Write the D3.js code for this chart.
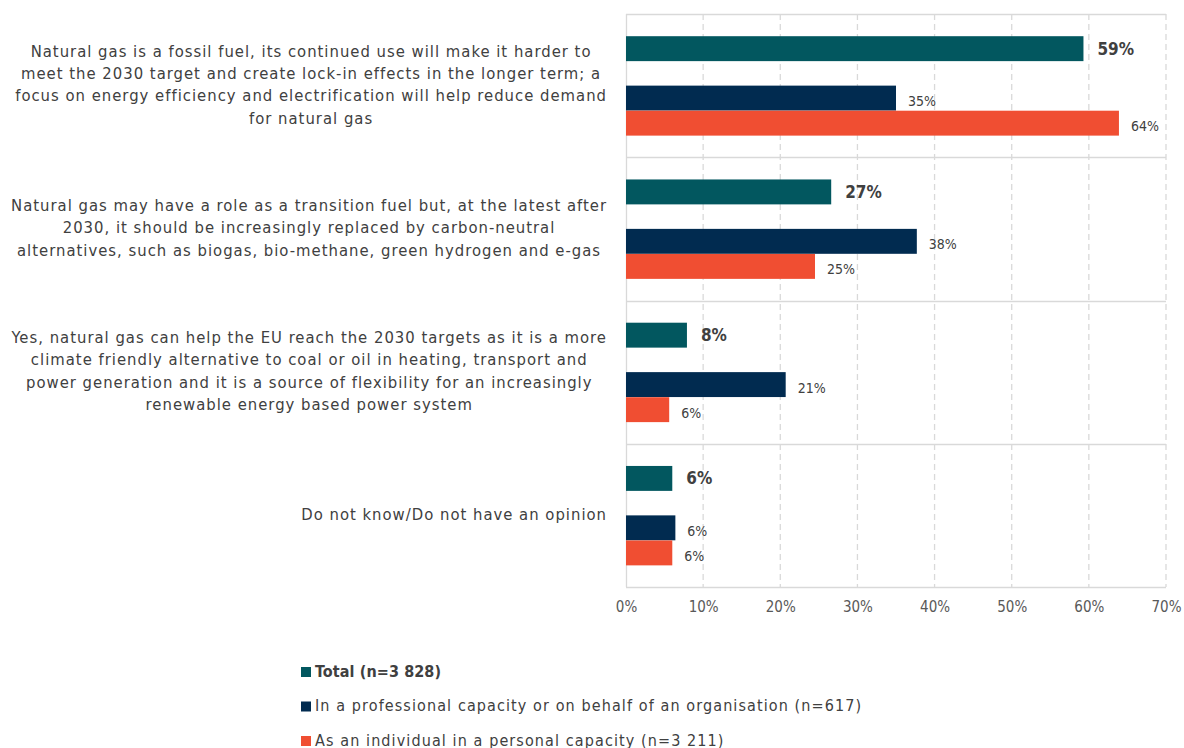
<!DOCTYPE html>
<html><head><meta charset="utf-8">
<script src="https://cdn.jsdelivr.net/npm/d3@7"></script>
<style>body{margin:0;background:#fff}svg{display:block}</style>
</head><body>
<script>
const categories = [
  ["Natural gas is a fossil fuel, its continued use will make it harder to","meet the 2030 target and create lock-in effects in the longer term; a","focus on energy efficiency and electrification will help reduce demand","for natural gas"],
  ["Natural gas may have a role as a transition fuel but, at the latest after","2030, it should be increasingly replaced by carbon-neutral","alternatives, such as biogas, bio-methane, green hydrogen and e-gas"],
  ["Yes, natural gas can help the EU reach the 2030 targets as it is a more","climate friendly alternative to coal or oil in heating, transport and","power generation and it is a source of flexibility for an increasingly","renewable energy based power system"],
  ["Do not know/Do not have an opinion"]
];
const seriesNames = ["Total (n=3 828)","In a professional capacity or on behalf of an organisation (n=617)","As an individual in a personal capacity (n=3 211)"];
const totalValues = [59.3, 26.6, 7.9, 6.0];
const professionalValues = [35.0, 37.7, 20.7, 6.4];
const individualValues = [63.9, 24.5, 5.6, 6.0];
const xTicks = [0,10,20,30,40,50,60,70];
const colors = ["#02575F","#012B50","#F04E32"];

(function(){
const W=1184,H=748;
const svg=d3.select("body").append("svg").attr("width",W).attr("height",H);
const FONT="'DejaVu Sans Condensed', 'DejaVu Sans', sans-serif";
const pL=626,pR=1166,pT=14,pB=587;
const x=d3.scaleLinear().domain([0,70]).range([pL,pR]);
const y=d3.scaleBand().domain(d3.range(categories.length)).range([pT,pB]);
const bw=y.bandwidth();

// gridlines
svg.append("g").selectAll("line").data(xTicks.slice(1)).join("line")
  .attr("x1",d=>x(d)).attr("x2",d=>x(d)).attr("y1",pT).attr("y2",pB)
  .attr("stroke","#d9d9d9").attr("stroke-width",1.3).attr("stroke-dasharray","6,4");
svg.append("g").selectAll("line").data(d3.range(categories.length+1)).join("line")
  .attr("x1",pL).attr("x2",pR)
  .attr("y1",d=>Math.round(pT+d*bw)+0.5).attr("y2",d=>Math.round(pT+d*bw)+0.5)
  .attr("stroke","#d9d9d9").attr("stroke-width",1.3);
svg.append("line").attr("x1",pL+0.5).attr("x2",pL+0.5).attr("y1",pT).attr("y2",pB)
  .attr("stroke","#d9d9d9").attr("stroke-width",1.3);

// x axis
const xAxis=d3.axisBottom(x).tickValues(xTicks).tickFormat(d=>d+"%").tickSize(0).tickPadding(14);
const ag=svg.append("g").attr("transform",`translate(0,${pB})`).call(xAxis);
ag.select(".domain").remove();
ag.selectAll("text").attr("font-family",FONT).attr("font-size",15).attr("fill","#595959");

// bars
const barH=bw*0.174;
const offs=[bw*0.155, bw*0.5, bw*0.675];
const sets=[totalValues,professionalValues,individualValues];
sets.forEach((vals,si)=>{
  const g=svg.append("g");
  g.selectAll("rect").data(vals).join("rect")
    .attr("x",x(0)).attr("y",(d,i)=>y(i)+offs[si])
    .attr("width",d=>x(d)-x(0)).attr("height",barH)
    .attr("fill",colors[si]);
  g.selectAll("text").data(vals).join("text")
    .attr("x",d=>x(d)+(si===0?14:12)).attr("y",(d,i)=>y(i)+offs[si]+barH/2+(si===0?1:4))
    .attr("dominant-baseline","middle")
    .attr("font-family",FONT).attr("font-size",si===0?17:14)
    .attr("font-weight",si===0?"bold":"normal").attr("fill","#404040")
    .text(d=>d3.format(".0f")(d)+"%");
});

// category labels
const lh=22.3;
categories.forEach((lines,i)=>{
  const g=svg.append("g");
  const cy=y(i)+bw/2;
  const t=g.selectAll("text").data(lines).join("text")
    .attr("font-family",FONT).attr("font-size",16.5).attr("fill","#404040")
    .attr("letter-spacing",1)
    .attr("text-anchor","middle").attr("dominant-baseline","middle")
    .attr("y",(d,j)=>cy+(j-(lines.length-1)/2)*lh)
    .text(d=>d);
  let maxW=0; t.each(function(){maxW=Math.max(maxW,this.getComputedTextLength());});
  t.attr("x",607-maxW/2);
});

// legend
const lg=svg.append("g");
seriesNames.forEach((n,i)=>{
  const ly=672+i*34.5;
  lg.append("rect").attr("x",301).attr("y",ly-5).attr("width",10).attr("height",10).attr("fill",colors[i]);
  lg.append("text").attr("x",315).attr("y",ly).attr("dominant-baseline","middle")
    .attr("font-family",FONT).attr("font-size",16).attr("fill","#404040")
    .attr("letter-spacing",i===0?0.1:1.1)
    .attr("font-weight",i===0?"bold":"normal").text(n);
});
})();
</script>
</body></html>
